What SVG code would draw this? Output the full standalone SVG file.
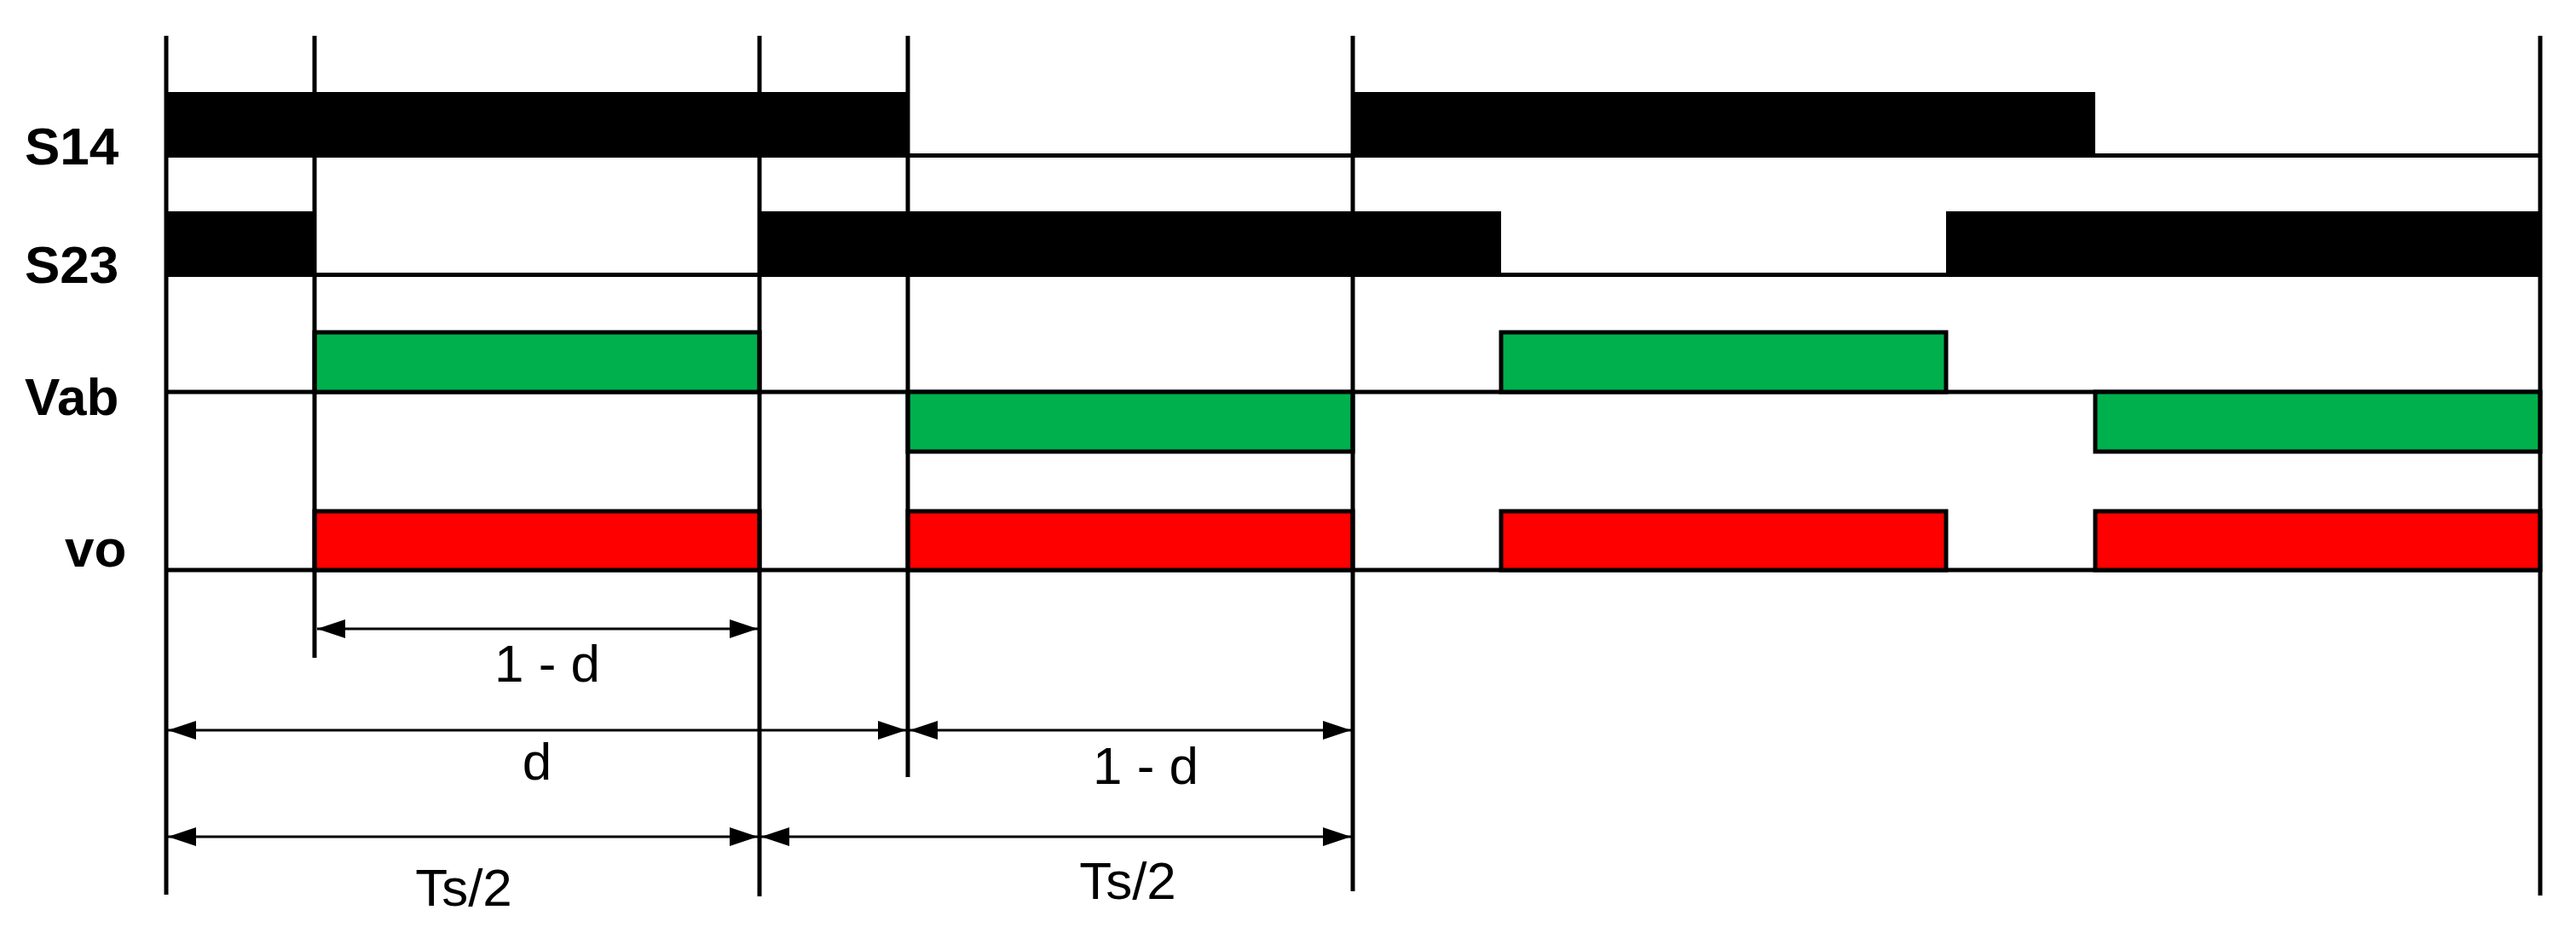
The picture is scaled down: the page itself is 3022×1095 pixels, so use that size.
<svg xmlns="http://www.w3.org/2000/svg" width="3022" height="1095" viewBox="0 0 3022 1095">
<style>
.v{stroke:#000;stroke-width:5;fill:none}
.base{stroke:#000;stroke-width:5}
.bar{fill:#000}
.g{fill:#00B04C;stroke:#000;stroke-width:5}
.r{fill:#FF0000;stroke:#000;stroke-width:5}
.lbl{font-family:"Liberation Sans",Arial,sans-serif;font-weight:bold;font-size:62px;fill:#000}
.dim{font-family:"Liberation Sans",Arial,sans-serif;font-size:62px;text-anchor:middle;fill:#000}
.arr{stroke:#000;stroke-width:3;fill:none;marker-start:url(#ah);marker-end:url(#ah)}
</style>
<defs>
<marker id="ah" markerUnits="userSpaceOnUse" markerWidth="33" markerHeight="22" refX="33" refY="11" orient="auto-start-reverse"><path d="M0,0L33,11L0,22z" fill="#000"/></marker>
</defs>
<rect width="3022" height="1095" fill="#fff"/>
<g id="S14">
<line class="base" x1="195" y1="182.5" x2="2980" y2="182.5"/>
<rect class="bar" x="195" y="108" width="870" height="77"/>
<rect class="bar" x="1587" y="108" width="871" height="77"/>
<text class="lbl" x="29" y="193">S14</text>
</g>
<g id="S23">
<line class="base" x1="195" y1="322.5" x2="2980" y2="322.5"/>
<rect class="bar" x="195" y="248" width="174" height="77"/>
<rect class="bar" x="891" y="248" width="870" height="77"/>
<rect class="bar" x="2283" y="248" width="697" height="77"/>
<text class="lbl" x="29" y="332">S23</text>
</g>
<g id="Vab">
<line class="base" x1="195" y1="460" x2="2980" y2="460"/>
<rect class="g" x="369" y="390" width="522" height="70"/>
<rect class="g" x="1761" y="390" width="522" height="70"/>
<rect class="g" x="1065" y="460" width="522" height="70"/>
<rect class="g" x="2458" y="460" width="522" height="70"/>
<text class="lbl" x="29" y="487">Vab</text>
</g>
<g id="vo">
<line class="base" x1="195" y1="669" x2="2980" y2="669"/>
<rect class="r" x="369" y="600" width="522" height="69"/>
<rect class="r" x="1065" y="600" width="522" height="69"/>
<rect class="r" x="1761" y="600" width="522" height="69"/>
<rect class="r" x="2458" y="600" width="522" height="69"/>
<text class="lbl" x="76" y="665">vo</text>
</g>
<g id="gridlines">
<line class="v" x1="195" y1="42" x2="195" y2="1050"/>
<line class="v" x1="369" y1="42" x2="369" y2="772"/>
<line class="v" x1="891" y1="42" x2="891" y2="1052"/>
<line class="v" x1="1065" y1="42" x2="1065" y2="912"/>
<line class="v" x1="1587" y1="42" x2="1587" y2="1046"/>
<line class="v" x1="2980" y1="42" x2="2980" y2="1051"/>
</g>
<g id="connectors">
<line class="arr" x1="372" y1="738" x2="889" y2="738"/>
<line class="arr" x1="197" y1="857" x2="1063" y2="857"/>
<line class="arr" x1="1067" y1="857" x2="1585" y2="857"/>
<line class="arr" x1="197" y1="982" x2="889" y2="982"/>
<line class="arr" x1="893" y1="982" x2="1585" y2="982"/>
</g>
<g id="dimlabels">
<text class="dim" x="642" y="800">1 - d</text>
<text class="dim" x="630" y="915">d</text>
<text class="dim" x="1344" y="920">1 - d</text>
<text class="dim" x="544" y="1063">Ts/2</text>
<text class="dim" x="1323" y="1055">Ts/2</text>
</g>
</svg>
